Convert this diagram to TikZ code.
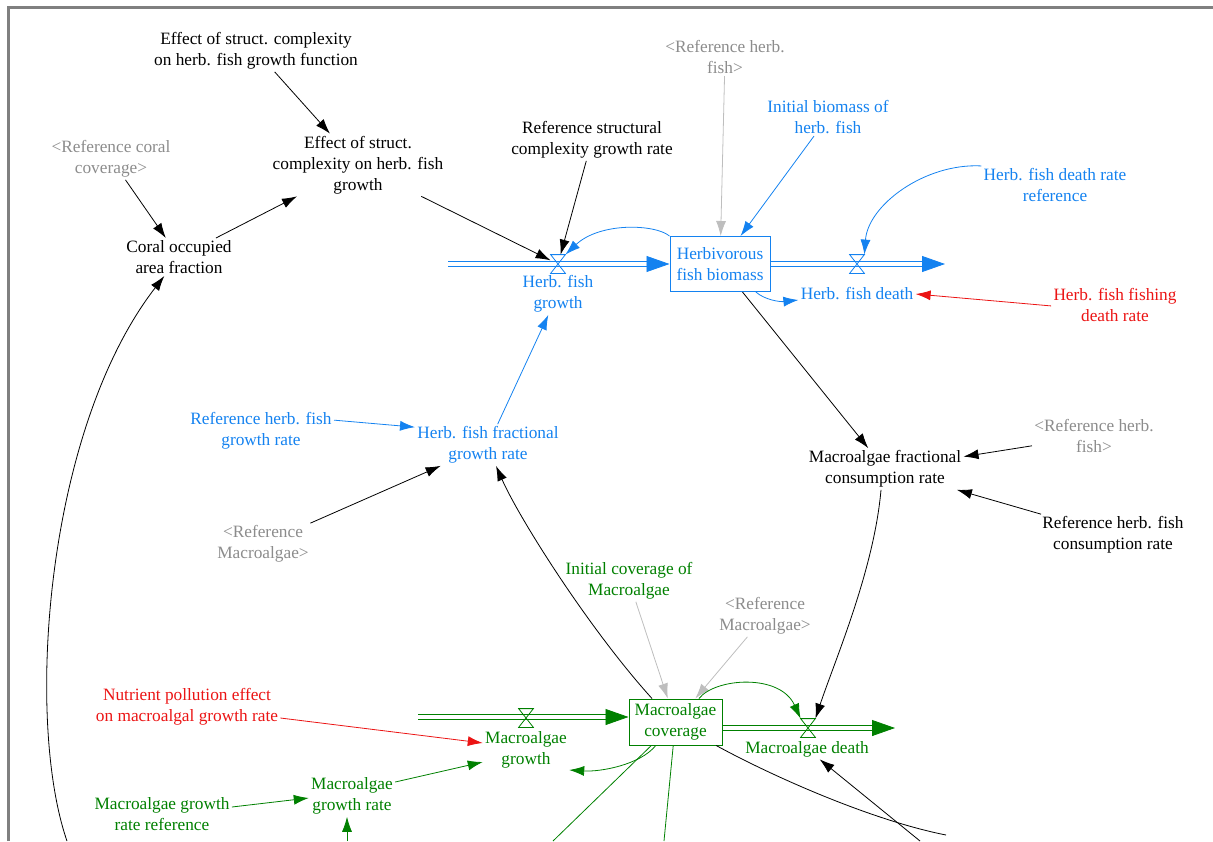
\documentclass[tikz,border=0pt]{standalone}
\usepackage{fontspec}
\setmainfont{Liberation Serif}
\usetikzlibrary{arrows.meta}
\definecolor{vblue}{RGB}{20,130,240}
\definecolor{vgreen}{RGB}{0,128,0}
\definecolor{vred}{RGB}{235,20,20}
\definecolor{vgray}{RGB}{140,140,140}
\definecolor{lgray}{RGB}{190,190,190}

\begin{document}
\begin{tikzpicture}[
    x=1pt, y=-1pt, % screen pixels, y grows downwards
    line width=0.8pt,
    >={Latex[length=15pt,width=10pt]}, % link arrow head
    every node/.style={align=center, inner sep=2pt,
        font=\fontsize{17.3}{21}\selectfont},
    var/.style={text=black},
    varblue/.style={text=vblue},
    vargreen/.style={text=vgreen},
    varred/.style={text=vred},
    ghost/.style={text=vgray},
    stockblue/.style={draw=vblue, text=vblue, rectangle, line width=1pt,
        minimum width=100pt, minimum height=55pt, inner sep=1pt},
    stockgreen/.style={draw=vgreen, text=vgreen, rectangle, line width=1pt,
        minimum width=93pt, minimum height=46pt, inner sep=1pt},
    valve/.style={rectangle, minimum width=14pt, minimum height=18pt, inner sep=0pt},
    lnk/.style={->},
    pipe/.style={double distance=3.4pt, line width=1.1pt, shorten >=20pt},
    pipetip/.style={-{Triangle[length=23pt,width=16pt]}}
    ]
    \useasboundingbox (0,0) rectangle (1213,841);
    \draw[gray, line width=2.5pt] (8.5,841) -- (8.5,7.5) -- (1213,7.5);

    % herbivorous fish part
    \node[var] (effFn) at (256,51) {Effect of struct. complexity\\on herb. fish growth function};
    \node[var] (effStruct) at (358,165) {Effect of struct.\\complexity on herb. fish\\growth};
    \node[ghost] (refCoral) at (111,159) {<Reference coral\\coverage>};
    \node[var] (coralFrac) at (179,257) {Coral occupied\\area fraction};
    \node[var] (refStruct) at (592,140) {Reference structural\\complexity growth rate};
    \node[ghost] (refFishA) at (725,57) {<Reference herb.\\fish>};
    \node[varblue] (initBio) at (828,117) {Initial biomass of\\herb. fish};
    \node[varblue] (deathRef) at (1055,185) {Herb. fish death rate\\reference};
    \node[varred] (fishing) at (1115,305) {Herb. fish fishing\\death rate};
    \node[stockblue] (fish) at (720,264) {Herbivorous\\fish biomass};
    \node[valve] (vFishIn) at (558,264) {};
    \node[varblue] (fishGrowth) at (558,294) {Herb. fish\\growth};
    \node[valve] (vFishOut) at (857,264) {};
    \node[varblue] (fishDeath) at (857,294) {Herb. fish death};
    \node[varblue] (refGrowth) at (261,431) {Reference herb. fish\\growth rate};
    \node[varblue] (fracGrowth) at (488,445) {Herb. fish fractional\\growth rate};
    \node[ghost] (refMacroA) at (263,544) {<Reference\\Macroalgae>};
    \node[var] (consRate) at (885,469) {Macroalgae fractional\\consumption rate};
    \node[ghost] (refFishB) at (1094,436) {<Reference herb.\\fish>};
    \node[var] (refCons) at (1113,535) {Reference herb. fish\\consumption rate};

    % macroalgae part
    \node[vargreen] (initCov) at (629,581) {Initial coverage of\\Macroalgae};
    \node[ghost] (refMacroB) at (765,616) {<Reference\\Macroalgae>};
    \node[varred] (nutrient) at (187,707) {Nutrient pollution effect\\on macroalgal growth rate};
    \node[stockgreen] (macro) at (675.5,722) {Macroalgae\\coverage};
    \node[valve] (vMacroIn) at (526,718) {};
    \node[vargreen] (macroGrowth) at (526,750) {Macroalgae\\growth};
    \node[valve] (vMacroOut) at (808,728) {};
    \node[vargreen] (macroDeath) at (807,749) {Macroalgae death};
    \node[vargreen] (growthRate) at (352,796) {Macroalgae\\growth rate};
    \node[vargreen] (growthRef) at (162,814) {Macroalgae growth\\rate reference};

    % loose ends
    \coordinate (fishSrc) at (448,264);
    \coordinate (fishSink) at (945,264);
    \coordinate (macroSrc) at (418,717);
    \coordinate (macroSink) at (895,728);
    \coordinate (cutA) at (67,841);
    \coordinate (cutB) at (553,841);
    \coordinate (cutC) at (664,841);
    \coordinate (cutD) at (946,835);
    \coordinate (cutE) at (920,841);
    \coordinate (cutF) at (347,841);

    % flows
    \draw[vblue, pipe] (fishSrc) -- (fish.west);
    \draw[vblue, pipetip] ([xshift=-23pt]fish.west) -- (fish.west);
    \draw[vblue, pipe] (fish.east) -- (fishSink);
    \draw[vblue, pipetip] ([xshift=-23pt]fishSink) -- (fishSink);
    \draw[vgreen, pipe] (macroSrc) -- ([yshift=5pt]macro.west);
    \draw[vgreen, pipetip] ([xshift=-23pt,yshift=5pt]macro.west) -- ([yshift=5pt]macro.west);
    \draw[vgreen, pipe] ([yshift=-6pt]macro.east) -- (macroSink);
    \draw[vgreen, pipetip] ([xshift=-23pt]macroSink) -- (macroSink);
    \foreach \v/\c in {vFishIn/vblue, vFishOut/vblue, vMacroIn/vgreen, vMacroOut/vgreen}
        \draw[\c, line width=0.8pt] (\v.north west) -- (\v.north east)
            -- (\v.south west) -- (\v.south east) -- cycle;

    % black links
    \draw[lnk] (effFn) -- (effStruct);
    \draw[lnk] (refCoral) -- (coralFrac);
    \draw[lnk] (coralFrac) -- (effStruct);
    \draw[lnk] (effStruct) -- (vFishIn);
    \draw[lnk] (refStruct) -- (vFishIn);
    \draw[lnk] (fish) -- (consRate);
    \draw[lnk] (refFishB) -- (consRate);
    \draw[lnk] (refCons) -- (consRate);
    \draw[lnk] (refMacroA) -- (fracGrowth);
    \draw[lnk] (macro.135) .. controls (590,630) and (520,520) .. ([xshift=8pt]fracGrowth.south);
    \draw[lnk] ([xshift=-4pt]consRate.south) .. controls (874,570) and (835,660) .. (vMacroOut.north east);
    \draw (macro.-30) .. controls (770,775) and (870,820) .. (cutD);
    \draw[lnk] (cutE) -- (macroDeath);
    \draw[lnk] (cutA) .. controls (25,720) and (45,430) .. (coralFrac);

    % grey links
    \draw[lnk, lgray] (refFishA) -- (fish);
    \draw[lnk, lgray] (initCov) -- (macro);
    \draw[lnk, lgray] (refMacroB) -- (macro);

    % blue links
    \draw[lnk, vblue] (initBio) -- (fish);
    \draw[lnk, vblue] (fracGrowth) -- (fishGrowth);
    \draw[lnk, vblue] ([yshift=-10pt]refGrowth.north east) -- ([yshift=-3pt]fracGrowth.north west);
    \draw[lnk, vblue] (fish.north west) .. controls (655,224) and (600,222) .. (vFishIn.north east);
    \draw[lnk, vblue] (deathRef.north west) .. controls (925,163) and (868,205) .. (vFishOut.north east);
    \draw[lnk, vblue] (fish.-38) .. controls (765,300) and (780,302) .. ([yshift=-6pt]fishDeath.west);

    % red links
    \draw[lnk, vred] ([yshift=-20pt]fishing.north west) -- (fishDeath.east);
    \draw[lnk, vred] ([yshift=-11pt]nutrient.east) -- ([yshift=7pt]macroGrowth.west);

    % green links
    \draw[lnk, vgreen] ([yshift=14pt]growthRate.east) -- ([yshift=-12pt]macroGrowth.west);
    \draw[lnk, vgreen] ([yshift=7pt]growthRef.east) -- ([yshift=-2pt]growthRate.west);
    \draw[lnk, vgreen] (cutF) -- ([xshift=-5pt]growthRate.south);
    \draw[lnk, vgreen] (macro.45) .. controls (715,678) and (780,673) .. (vMacroOut.north west);
    \draw[lnk, vgreen] (macro.-130) .. controls (640,765) and (600,772) .. ([yshift=-20pt]macroGrowth.east);
    \draw[vgreen] (macro) -- (cutB);
    \draw[vgreen] (macro) -- (cutC);
\end{tikzpicture}
\end{document}
